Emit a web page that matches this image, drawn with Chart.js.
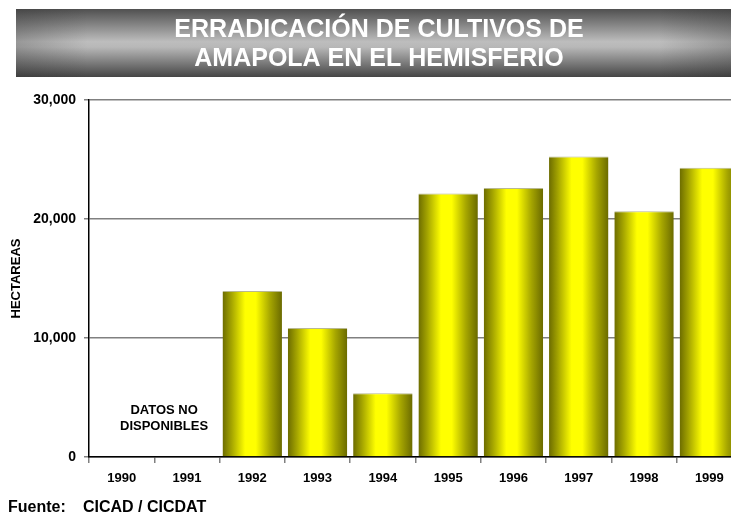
<!DOCTYPE html>
<html>
<head>
<meta charset="utf-8">
<script src="https://cdn.jsdelivr.net/npm/chart.js@4"></script>
<style>
  html, body { margin: 0; padding: 0; background: #fff; overflow: hidden; }
</style>
</head>
<body>
<canvas id="myChart" width="745" height="519"></canvas>
<script>
"use strict";

// ========== DATOS ==========
var years = ["1990", "1991", "1992", "1993", "1994", "1995", "1996", "1997", "1998", "1999"];
var hectareas = [null, null, 13950, 10850, 5350, 22150, 22600, 25250, 20650, 24300];
var yTicks = [0, 10000, 20000, 30000];
var titleLines = ["ERRADICACIÓN DE CULTIVOS DE", "AMAPOLA EN EL HEMISFERIO"];
var noDataLines = ["DATOS NO", "DISPONIBLES"];
var sourceLabel = "Fuente:";
var sourceText = "CICAD / CICDAT";

var BAR_PCT = 0.91;
var FONT = "'Liberation Sans', Arial, sans-serif";

// degradado horizontal de cada barra
function barFill(c) {
  var chart = c.chart;
  var xs = chart.scales.x;
  if (!xs || c.dataIndex === undefined) return "#e0e000";
  var cx = xs.getPixelForValue(c.dataIndex);
  var w = (xs.width / years.length) * BAR_PCT;
  if (!isFinite(cx) || !isFinite(w) || w <= 0) return "#e0e000";
  var g = chart.ctx.createLinearGradient(cx - w / 2, 0, cx + w / 2, 0);
  g.addColorStop(0, "#6c6c00");
  g.addColorStop(0.15, "#a4a400");
  g.addColorStop(0.38, "#ffff00");
  g.addColorStop(0.56, "#ffff00");
  g.addColorStop(0.8, "#a6a600");
  g.addColorStop(1, "#6a6a00");
  return g;
}

// ========== BANNER, NOTA Y FUENTE ==========
var decor = {
  id: "decor",
  beforeDraw(chart) {
    var ctx = chart.ctx;
    ctx.save();
    var x0 = 16, y0 = 9, w = 731 - 16, h = 68;
    var g = ctx.createLinearGradient(0, y0, 0, y0 + h);
    g.addColorStop(0, "#505050");
    g.addColorStop(0.48, "#bdbdbd");
    g.addColorStop(0.56, "#b8b8b8");
    g.addColorStop(1, "#454545");
    ctx.fillStyle = g;
    ctx.fillRect(x0, y0, w, h);
    var gh = ctx.createLinearGradient(x0, 0, x0 + w, 0);
    gh.addColorStop(0, "rgba(40,40,40,0.25)");
    gh.addColorStop(0.1, "rgba(40,40,40,0)");
    gh.addColorStop(0.9, "rgba(40,40,40,0)");
    gh.addColorStop(1, "rgba(40,40,40,0.25)");
    ctx.fillStyle = gh;
    ctx.fillRect(x0, y0, w, h);
    ctx.fillStyle = "#ffffff";
    ctx.font = "bold 25px " + FONT;
    ctx.textAlign = "center";
    ctx.textBaseline = "middle";
    ctx.fillText(titleLines[0], 379, 30);
    ctx.fillText(titleLines[1], 379, 59);
    ctx.restore();
  },
  afterDatasetsDraw(chart) {
    var ctx = chart.ctx;
    var xs = chart.scales.x, ys = chart.scales.y;
    ctx.save();
    ctx.fillStyle = "#000";
    ctx.font = "bold 13px " + FONT;
    ctx.textAlign = "center";
    ctx.textBaseline = "middle";
    var cx = xs.getPixelForValue(0.65);
    ctx.fillText(noDataLines[0], cx, ys.getPixelForValue(3950));
    ctx.fillText(noDataLines[1], cx, ys.getPixelForValue(2600));
    ctx.restore();
  },
  afterDraw(chart) {
    var ctx = chart.ctx;
    ctx.save();
    ctx.fillStyle = "#000";
    ctx.font = "bold 16px " + FONT;
    ctx.textAlign = "left";
    ctx.textBaseline = "middle";
    ctx.fillText(sourceLabel, 8, 508);
    ctx.fillText(sourceText, 83, 508);
    ctx.restore();
  }
};

// ========== GRÁFICO ==========
var chartCanvas = document.getElementById("myChart");
new Chart(chartCanvas.getContext("2d"), {
  type: "bar",
  data: {
    labels: years,
    datasets: [{
      label: "Hectáreas",
      data: hectareas,
      backgroundColor: barFill,
      borderColor: "#b8b890",
      borderWidth: { top: 1, left: 0, right: 0, bottom: 0 },
      borderSkipped: false,
      barPercentage: BAR_PCT,
      categoryPercentage: 1
    }]
  },
  options: {
    responsive: false,
    animation: false,
    layout: { padding: { top: 100, right: 3, bottom: 22, left: 0 } },
    plugins: {
      legend: { display: false },
      tooltip: { enabled: false },
      title: { display: false }
    },
    scales: {
      x: {
        offset: true,
        grid: { display: true, drawOnChartArea: false, drawTicks: true, tickLength: 6, color: "#808080", lineWidth: 1.5, offset: true },
        border: { color: "#000", width: 1.5 },
        ticks: { color: "#000", font: { family: FONT, size: 13, weight: "bold" }, padding: 8, maxRotation: 0 },
        afterFit(s) { s.height = 40; }
      },
      y: {
        min: 0,
        max: 30000,
        afterBuildTicks(s) { s.ticks = yTicks.map(v => ({ value: v })); },
        ticks: {
          color: "#000",
          font: { family: FONT, size: 14, weight: "bold" },
          padding: 8,
          callback: v => v.toLocaleString("en-US")
        },
        grid: { color: "#808080", lineWidth: 1.5, tickLength: 5 },
        border: { color: "#000", width: 1.5 },
        title: {
          display: true,
          text: "HECTAREAS",
          color: "#000",
          font: { family: FONT, size: 13, weight: "bold" },
          padding: { top: 9, bottom: 0 }
        },
        afterFit(s) { s.width = 89; }
      }
    }
  },
  plugins: [decor]
});
</script>
</body>
</html>
